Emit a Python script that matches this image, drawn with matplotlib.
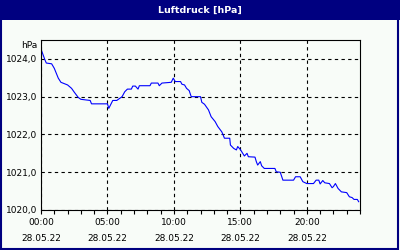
import matplotlib
matplotlib.use('Agg')
import matplotlib.pyplot as plt
from matplotlib.patches import Rectangle
from matplotlib.ticker import MultipleLocator, FuncFormatter

# hours since 00:00 on 28.05.22 and pressure in hPa
hours = [0.0, 0.3, 0.4, 0.8, 1.0, 1.3, 1.5, 2.0, 2.3, 2.5, 2.8, 3.0, 3.7, 3.8,
         4.4, 5.0, 5.1, 5.3, 5.4, 5.7, 6.1, 6.3, 6.5, 6.8, 6.9, 7.1, 7.3, 7.4,
         8.2, 8.3, 8.8, 8.9, 9.1, 9.8, 9.95, 10.1, 10.5, 10.6, 10.8, 10.95,
         11.15, 11.3, 12.0, 12.1, 12.3, 12.6, 12.8, 13.1, 13.3, 13.6, 13.7,
         13.8, 14.2, 14.25, 14.5, 14.7, 14.8, 15.0, 15.3, 15.5, 15.6, 16.1,
         16.2, 16.3, 16.5, 16.6, 16.8, 17.6, 17.7, 18.0, 18.2, 19.0, 19.15,
         19.5, 19.7, 20.0, 20.5, 20.7, 20.9, 21.0, 21.2, 21.35, 21.7, 21.9,
         22.0, 22.15, 22.35, 22.6, 23.0, 23.2, 23.4, 23.55, 23.8, 23.9]
pressure = [1024.26, 1023.97, 1023.89, 1023.87, 1023.75, 1023.49, 1023.38,
            1023.31, 1023.22, 1023.12, 1022.98, 1022.93, 1022.9, 1022.81,
            1022.81, 1022.81, 1022.69, 1022.83, 1022.9, 1022.9, 1023.0,
            1023.13, 1023.2, 1023.2, 1023.28, 1023.28, 1023.2, 1023.29,
            1023.29, 1023.36, 1023.36, 1023.29, 1023.36, 1023.38, 1023.49,
            1023.4, 1023.4, 1023.33, 1023.31, 1023.22, 1023.16, 1023.0,
            1023.0, 1022.85, 1022.8, 1022.65, 1022.47, 1022.34, 1022.21,
            1022.07, 1021.99, 1021.9, 1021.9, 1021.72, 1021.63, 1021.59,
            1021.68, 1021.6, 1021.43, 1021.5, 1021.41, 1021.4, 1021.28,
            1021.19, 1021.28, 1021.17, 1021.1, 1021.1, 1021.01, 1021.0,
            1020.79, 1020.79, 1020.88, 1020.88, 1020.75, 1020.7, 1020.7,
            1020.79, 1020.79, 1020.69, 1020.78, 1020.72, 1020.7, 1020.59,
            1020.62, 1020.7, 1020.57, 1020.48, 1020.46, 1020.35, 1020.33,
            1020.28, 1020.28, 1020.22]
tick_hours = [0, 5, 10, 15, 20]
tick_labels = ['00:00\n28.05.22', '05:00\n28.05.22', '10:00\n28.05.22',
               '15:00\n28.05.22', '20:00\n28.05.22']

navy = '#000080'
bg = '#f8fcf8'

fig = plt.figure(figsize=(4, 2.5), dpi=100, facecolor=bg)

# title bar and frame
fig.patches.append(Rectangle((0, 0.92), 1, 0.08, transform=fig.transFigure,
                             facecolor=navy, edgecolor='none', zorder=0))
fig.patches.append(Rectangle((0.003, 0.006), 0.992, 0.99, transform=fig.transFigure,
                             facecolor='none', edgecolor=navy, linewidth=1.5, zorder=1))
fig.text(0.5, 0.96, 'Luftdruck [hPa]', color='white', fontsize=6.8,
         fontweight='bold', ha='center', va='center')

ax = fig.add_axes([0.1025, 0.16, 0.7975, 0.68])
ax.set_facecolor(bg)
ax.plot(hours, pressure, color='#0000ff', linewidth=0.8)

ax.set_xlim(0, 24)
ax.set_ylim(1020, 1024.5)
ax.set_xticks(tick_hours)
ax.set_xticklabels(tick_labels, fontsize=6.5, linespacing=1.9)
ax.xaxis.set_minor_locator(MultipleLocator(1))
ax.yaxis.set_major_locator(MultipleLocator(1))
ax.yaxis.set_major_formatter(FuncFormatter(lambda v, p: f'{v:.1f}'.replace('.', ',')))
ax.tick_params(axis='x', which='both', direction='out', length=3, width=0.8,
               pad=3, colors='black')
ax.tick_params(axis='y', length=0, pad=3, labelsize=6.5)

ax.grid(True, which='major', color='black', linestyle=(0, (3, 3)), linewidth=0.8)
for s in ax.spines.values():
    s.set_color('black')
    s.set_linewidth(0.8)

fig.text(0.052, 0.82, 'hPa', fontsize=6.5, ha='left', va='center')

fig.savefig('out.png', dpi=100, facecolor=bg)
